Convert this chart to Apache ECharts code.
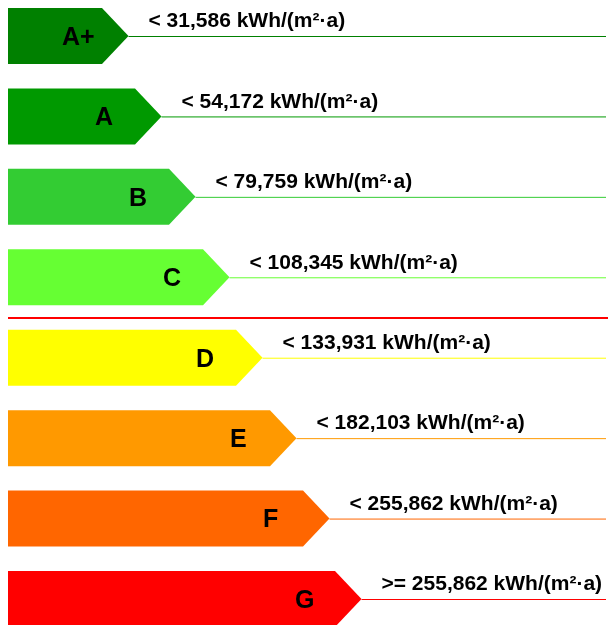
<!DOCTYPE html>
<html>
<head>
    <meta charset="utf-8">
    <script src="https://cdn.jsdelivr.net/npm/echarts@6/dist/echarts.min.js"></script>
    <style>
        html, body { margin: 0; padding: 0; background: #fff; }
    </style>
</head>
<body>
<div id="main" style="width: 608px;height:625px;"></div>

<script>
    // energy classes, top to bottom
    var classes = ['A+', 'A', 'B', 'C', 'D', 'E', 'F', 'G'];
    var limits = [
        '< 31,586 kWh/(m²·a)',
        '< 54,172 kWh/(m²·a)',
        '< 79,759 kWh/(m²·a)',
        '< 108,345 kWh/(m²·a)',
        '< 133,931 kWh/(m²·a)',
        '< 182,103 kWh/(m²·a)',
        '< 255,862 kWh/(m²·a)',
        '>= 255,862 kWh/(m²·a)'
    ];
    // length of the arrow body (axis units)
    var barLength = [94, 127, 161, 195, 228, 262, 295, 327];
    var colors = ['#008000', '#009900', '#33cc33', '#66ff33', '#ffff00', '#ff9900', '#ff6600', '#ff0000'];
    // red separator sits between C and D
    var separatorAt = 3.5;

    var myChart = echarts.init(document.getElementById('main'));

    var data = [];
    for (var i = 0; i < classes.length; i++) {
        data.push([barLength[i], i]);
    }

    function renderArrow(params, api) {
        var i = params.dataIndex;
        var end = api.coord([api.value(0), api.value(1)]);
        var start = api.coord([0, api.value(1)]);
        var h = api.size([0, 0.696])[1];
        var tip = api.size([26.5, 0])[0];
        var right = params.coordSys.x + params.coordSys.width;
        var cy = end[1];
        var color = colors[i];
        return {
            type: 'group',
            children: [
                {
                    type: 'polygon',
                    shape: {
                        points: [
                            [start[0], cy - h / 2],
                            [end[0], cy - h / 2],
                            [end[0] + tip, cy],
                            [end[0], cy + h / 2],
                            [start[0], cy + h / 2]
                        ]
                    },
                    style: {fill: color}
                },
                {
                    type: 'line',
                    shape: {x1: end[0] + tip, y1: cy + 0.5, x2: right - 2, y2: cy + 0.5},
                    style: {stroke: color, lineWidth: 1}
                },
                {
                    type: 'text',
                    style: {
                        text: classes[i],
                        x: end[0] - 40,
                        y: cy + 2,
                        verticalAlign: 'middle',
                        fill: '#000',
                        font: 'bold 25px "Liberation Sans", Arial, sans-serif'
                    }
                },
                {
                    type: 'text',
                    style: {
                        text: limits[i],
                        x: end[0] + tip + 20,
                        y: cy - 4,
                        verticalAlign: 'bottom',
                        fill: '#000',
                        font: 'bold 21px "Liberation Sans", Arial, sans-serif'
                    }
                }
            ]
        };
    }

    var option = {
        animation: false,
        grid: {left: 8, right: 0, top: 36, bottom: 26},
        xAxis: {
            type: 'value',
            min: 0,
            max: 600,
            show: false
        },
        yAxis: {
            type: 'value',
            min: 0,
            max: 7,
            inverse: true,
            show: false
        },
        series: [
            {
                type: 'custom',
                renderItem: renderArrow,
                data: data,
                markLine: {
                    silent: true,
                    symbol: 'none',
                    label: {show: false},
                    lineStyle: {color: '#ff0000', width: 2, type: 'solid'},
                    data: [{yAxis: separatorAt}]
                }
            }
        ]
    };
    myChart.setOption(option);
</script>
</body>
</html>
